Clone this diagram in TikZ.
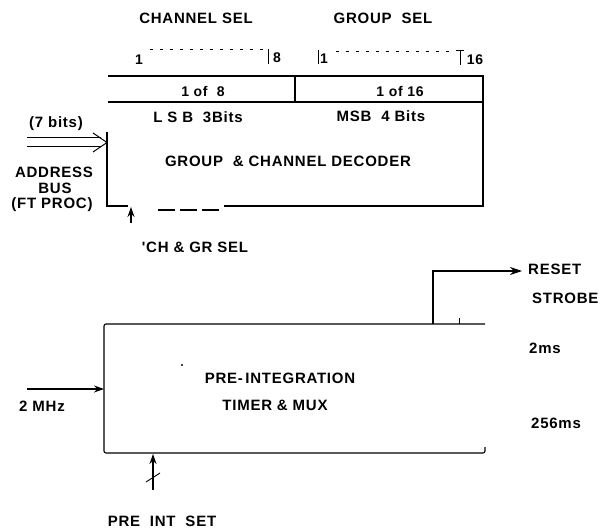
\documentclass[tikz,border=0pt]{standalone}
\usepackage{fontspec}
\setmainfont{Liberation Sans}
\newfontfamily\lblfont{Liberation Sans}[LetterSpace=5]
\usetikzlibrary{arrows.meta}
\tikzset{
  lbl/.style={font=\lblfont\bfseries\fontsize{15}{17}\selectfont, inner sep=0pt},
  small/.style={font=\lblfont\bfseries\fontsize{14}{16}\selectfont, inner sep=0pt},
  wire/.style={line width=1.1pt},
  arr/.style={wire, -{Stealth[length=10pt,width=7pt]}},
  pins/.style={line width=0.9pt, dash pattern=on 3pt off 7pt},
  busline/.style={line width=1pt},
  thickdash/.style={line width=2.2pt, dash pattern=on 17pt off 5pt},
}
\begin{document}
\begin{tikzpicture}[x=1pt,y=-1pt]
\useasboundingbox (0,0) rectangle (603,532);

% ---- top labels
\node[lbl] (chsel) at (196,18) {CHANNEL SEL};
\node[lbl] (grsel) at (383,18) {GROUP\ \ SEL};

% ---- pin ranges
\node[small] (p1) at (139,60) {1};
\coordinate (d1s) at (150,49); \coordinate (d1e) at (264,49);
\draw[pins] (d1s) -- (d1e);
\coordinate (b8t) at (268,49); \coordinate (b8b) at (268,64);
\draw[line width=1pt] (b8t) -- (b8b);
\node[small] (p8) at (277,58) {8};

\coordinate (b1t) at (318,50); \coordinate (b1b) at (318,64);
\draw[line width=1pt] (b1t) -- (b1b);
\node[small] (p1b) at (324,59) {1};
\coordinate (d2s) at (336,51); \coordinate (d2e) at (450,51);
\draw[pins] (d2s) -- (d2e);
\coordinate (t16t) at (460,51); \coordinate (t16b) at (460,65);
\draw[line width=1pt] (t16t) -- (t16b) (456,51) -- (464,51);
\node[small] (p16) at (475,60) {16};

% ---- decoder box
\coordinate (tl) at (108,76);  \coordinate (tr) at (483,76);
\coordinate (ml) at (108,102); \coordinate (mr) at (483,102);
\coordinate (mt) at (295,76);  \coordinate (mb) at (295,102);
\coordinate (lt) at (107,132); \coordinate (bl) at (107,206);
\coordinate (bla) at (128,206);
\coordinate (bs) at (224,206); \coordinate (br) at (483,206);
\draw[wire] (tl) -- (tr) -- (br) -- (bs);
\draw[wire] (ml) -- (mr);
\draw[wire] (mt) -- (mb);
\draw[wire] (lt) -- (bl) -- (bla);
\coordinate (ds) at (158,210); \coordinate (de) at (222,210);
\draw[thickdash] (ds) -- (de);

\node[small] (of8) at (203,91) {1 of\ \ 8};
\node[small] (of16) at (400,91) {1 of 16};
\node[lbl] (lsb) at (198,117) {L S B\ \ 3Bits};
\node[lbl] (msb) at (381,116) {MSB\ \ 4 Bits};
\node[lbl] (dec) at (288,161) {GROUP\ \ \& CHANNEL DECODER};

% ---- address bus (double arrow)
\node[lbl] (bits) at (56,124) {(7 bits)};
\coordinate (busa1) at (27,138); \coordinate (busa2) at (101,138);
\coordinate (busb1) at (27,147); \coordinate (busb2) at (101,147);
\coordinate (bush1) at (93,133); \coordinate (bustip) at (107,142.5);
\coordinate (bush2) at (93,152);
\draw[busline] (busa1) -- (busa2);
\draw[busline] (busb1) -- (busb2);
\draw[busline, line join=miter] (bush1) -- (bustip) -- (bush2);
\node[lbl] (addr) at (54,172) {ADDRESS};
\node[lbl] (busl) at (55,188) {BUS};
\node[lbl] (ftp) at (52,205) {(FT PROC)};

% ---- CH & GR SEL
\coordinate (cgin) at (131,223); \coordinate (cgout) at (131,207);
\draw[arr] (cgin) -- (cgout);
\node[lbl] (cgsel) at (195,247) {'CH \& GR SEL};

% ---- timer box
\coordinate (t1) at (485,324); \coordinate (t2) at (104,324);
\coordinate (t3) at (104,453); \coordinate (t4) at (485,453);
\coordinate (t5) at (485,447);
\draw[wire, rounded corners=2pt] (t1) -- (t2) -- (t3) -- (t4) -- (t5);
\coordinate (tk1) at (459,324); \coordinate (tk2) at (459,318);
\draw[line width=0.9pt] (tk1) -- (tk2);
\fill (182,365) circle (1.1pt);
\node[lbl] (pre) at (280,378) {PRE-\,INTEGRATION};
\node[lbl] (tim) at (275,405) {TIMER \& MUX};

% ---- 2 MHz
\coordinate (clkin) at (27,389); \coordinate (clkout) at (104,389);
\draw[arr] (clkin) -- (clkout);
\node[lbl] (mhz) at (42,406) {2 MHz};

% ---- reset strobe
\coordinate (rs0) at (433,324); \coordinate (rs1) at (522,271);
\draw[wire, -{Stealth[length=12pt,width=8pt]}] (rs0) |- (rs1);
\node[lbl, anchor=west] (reset) at (528,269) {RESET};
\node[lbl, anchor=west] (strobe) at (532,298) {STROBE};
\node[lbl, anchor=west] (ms2) at (529,348) {2ms};
\node[lbl, anchor=west] (ms256) at (531,423) {256ms};

% ---- pre int set
\coordinate (ps0) at (153,490); \coordinate (ps1) at (153,454);
\draw[arr] (ps0) -- (ps1);
\coordinate (sl1) at (146,482); \coordinate (sl2) at (160,473);
\draw[line width=0.9pt] (sl1) -- (sl2);
\node[lbl] (pset) at (162,521) {PRE\ \ INT\ \ SET};
\end{tikzpicture}
\end{document}
